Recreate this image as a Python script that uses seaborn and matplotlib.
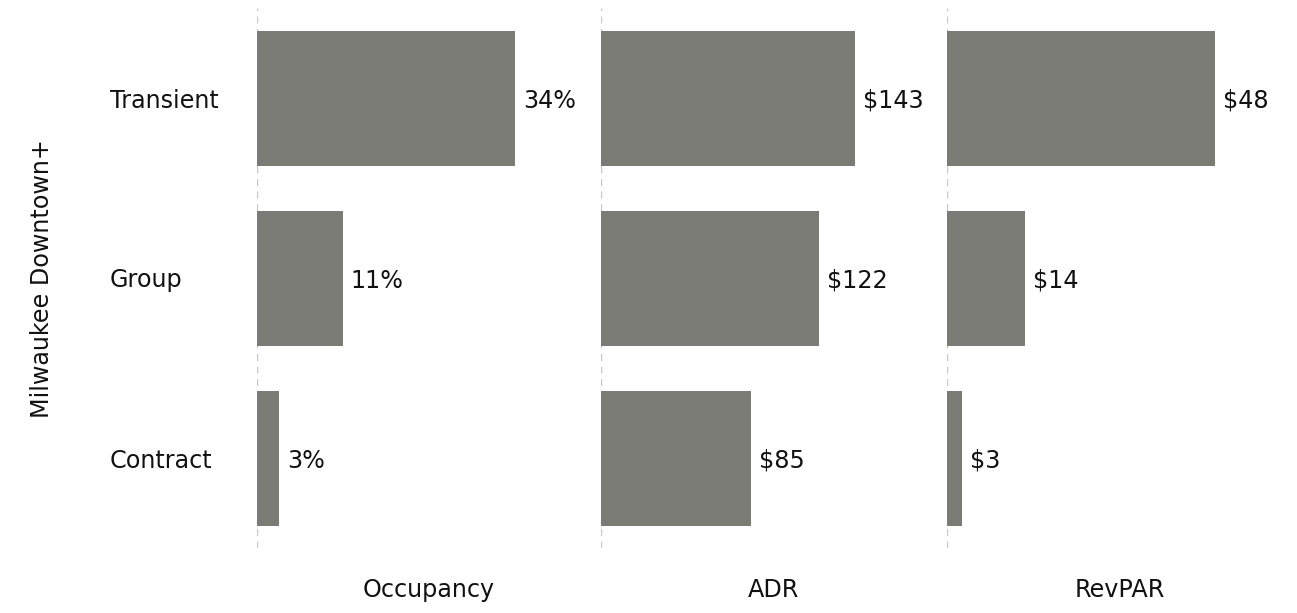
import matplotlib
matplotlib.use("Agg")
import matplotlib.pyplot as plt
import seaborn as sns
import pandas as pd

categories = ["Transient", "Group", "Contract"]
occupancy = [34.0, 11.3, 2.9]
adr = [143.0, 122.7, 84.5]
revpar = [48.0, 14.0, 2.6]
occupancy_labels = ["34%", "11%", "3%"]
adr_labels = ["$143", "$122", "$85"]
revpar_labels = ["$48", "$14", "$3"]
measures = ["Occupancy", "ADR", "RevPAR"]
y_title = "Milwaukee Downtown+"

sns.set_theme(style="white")
plt.rcParams['font.family'] = ['DejaVu Sans']

W, H = 1297, 613
fig = plt.figure(figsize=(W / 100, H / 100), dpi=100)

bar_color = "#7b7b76"
panels = [
    (occupancy, occupancy_labels, 45.3, 257, 601),
    (adr, adr_labels, 194.8, 601, 947),
    (revpar, revpar_labels, 62.0, 947, 1293),
]
top_px, bot_px = 8, 548

axes = []
for i, (vals, labs, xmax, x0, x1) in enumerate(panels):
    ax = fig.add_axes([x0 / W, 1 - bot_px / H, (x1 - x0) / W, (bot_px - top_px) / H])
    df = pd.DataFrame({"cat": categories, "val": vals})
    sns.barplot(data=df, x="val", y="cat", color=bar_color, saturation=1,
                width=0.75, orient="h", ax=ax, linewidth=0, edgecolor="none")
    ax.set_xlim(0, xmax)
    ax.set_ylim(2.5, -0.5)
    ax.axvline(0, color="#c8c8c8", lw=1, linestyle=(0, (5, 4)), zorder=0)
    for sp in ax.spines.values():
        sp.set_visible(False)
    ax.set_xticks([])
    ax.set_xlabel("")
    ax.set_ylabel("")
    texts = ax.bar_label(ax.containers[0], labels=labs, padding=5.8, fontsize=17.2,
                         color="#111111")
    for t in texts:
        t.set_va("center_baseline")
    ax.text(0.5, -42 / (bot_px - top_px), measures[i], transform=ax.transAxes,
            ha="center", va="center", fontsize=17.2, color="#111111")
    if i == 0:
        ax.tick_params(axis="y", length=0, pad=147 * 0.72, labelsize=17.2,
                       labelcolor="#111111")
        for t in ax.get_yticklabels():
            t.set_ha("left")
            t.set_va("center_baseline")
    else:
        ax.set_yticks([])
    axes.append(ax)

fig.text(42 / W, 1 - 279 / H, y_title, rotation=90, ha="center", va="center",
         fontsize=17.2, color="#111111")

fig.savefig("out.png", dpi=100)
